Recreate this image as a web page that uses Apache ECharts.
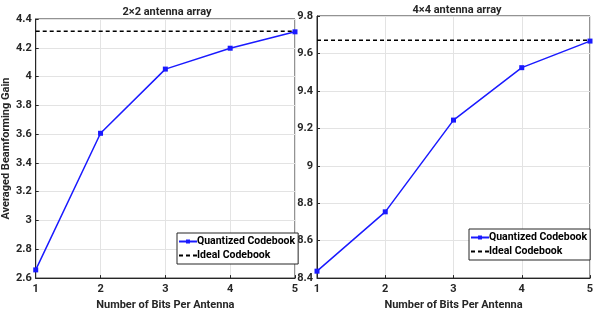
<!DOCTYPE html>
<html><head><meta charset="utf-8">
<script src="https://cdn.jsdelivr.net/npm/echarts@6/dist/echarts.min.js"></script>
<style>html,body{margin:0;padding:0;background:#fff}#c{width:598px;height:316px}</style>
</head><body><div id="c"></div>
<script>
const bits = [1, 2, 3, 4, 5];
const quant2x2 = [2.657, 3.606, 4.052, 4.197, 4.311];
const ideal2x2 = 4.315;
const quant4x4 = [8.437, 8.754, 9.244, 9.524, 9.666];
const ideal4x4 = 9.671;
const titles = ['2\u00d72 antenna array', '4\u00d74 antenna array'];
const xLabel = 'Number of Bits Per Antenna';
const yLabel = 'Averaged Beamforming Gain';
const seriesNames = ['Quantized Codebook', 'Ideal Codebook'];

const FONT = 'Roboto,"Liberation Sans",Arial,sans-serif';
const txt = {fontFamily: FONT, fontWeight: 'bold', color: '#262626'};
const chart = echarts.init(document.getElementById('c'), null, {renderer: 'canvas'});

function xAx(i) {
  return {gridIndex: i, type: 'value', min: 1, max: 5, interval: 1,
    name: xLabel, nameLocation: 'middle', nameGap: 20,
    nameTextStyle: Object.assign({fontSize: 11}, txt),
    axisLabel: Object.assign({fontSize: 11, margin: 6}, txt),
    axisLine: {lineStyle: {color: '#262626'}},
    axisTick: {inside: true, length: 3, lineStyle: {color: '#262626'}},
    splitLine: {show: true, lineStyle: {color: '#e3e3e3', width: 1}}};
}
function yAx(i, min, max, name) {
  return {gridIndex: i, type: 'value', min: min, max: max, interval: 0.2,
    name: name, nameLocation: 'middle', nameGap: 15,
    nameTextStyle: Object.assign({fontSize: 11}, txt),
    axisLabel: Object.assign({fontSize: 11, margin: 4,
      formatter: v => String(Math.round(v * 10) / 10)}, txt),
    axisLine: {show: true, lineStyle: {color: '#262626'}},
    axisTick: {show: true, inside: true, length: 3, lineStyle: {color: '#262626'}},
    splitLine: {show: true, lineStyle: {color: '#e3e3e3', width: 1}}};
}
function qSeries(i, vals) {
  return {name: seriesNames[0], type: 'line', xAxisIndex: i, yAxisIndex: i,
    data: bits.map((b, k) => [b, vals[k]]),
    symbol: 'rect', symbolSize: 5, color: '#1a1aff',
    lineStyle: {width: 1.5, color: '#1a1aff'},
    itemStyle: {color: '#1a1aff'}};
}
function iSeries(i, v) {
  return {name: seriesNames[1], type: 'line', xAxisIndex: i, yAxisIndex: i,
    data: [[bits[0], v], [bits[bits.length - 1], v]],
    symbol: 'none', color: '#000',
    lineStyle: {width: 1.5, type: [4, 3], color: '#000'}};
}
function legend(i, left, top) {
  return {show: true, orient: 'vertical', left: left, top: top,
    data: [
      {name: seriesNames[0], itemStyle: {color: '#1a1aff'}},
      {name: seriesNames[1], itemStyle: {color: 'rgba(0,0,0,0)', borderWidth: 0}}
    ],
    padding: [2, 3, 2, 1], itemGap: 1, itemWidth: 18, itemHeight: 5,
    borderColor: '#262626', borderWidth: 1, backgroundColor: '#fff',
    textStyle: Object.assign({fontSize: 10.5, lineHeight: 13, padding: [0, 0, 0, -5]}, txt, {color: '#000'}),
    selectedMode: false};
}
chart.setOption({
  animation: false,
  backgroundColor: '#fff',
  title: [
    {text: titles[0], left: 162, top: 2, textAlign: 'center', textStyle: Object.assign({fontSize: 11}, txt)},
    {text: titles[1], left: 452, top: 0, textAlign: 'center', textStyle: Object.assign({fontSize: 11}, txt)}
  ],
  grid: [
    {left: 29, top: 19, width: 266, height: 260, show: true, borderColor: '#262626', borderWidth: 1, backgroundColor: '#fff'},
    {left: 317, top: 16, width: 273, height: 265, show: true, borderColor: '#262626', borderWidth: 1, backgroundColor: '#fff'}
  ],
  xAxis: [xAx(0), xAx(1)],
  yAxis: [yAx(0, 2.6, 4.4, yLabel), yAx(1, 8.4, 9.8, '')],
  legend: [legend(0, 177, 233), legend(1, 469, 229)],
  series: [qSeries(0, quant2x2), iSeries(0, ideal2x2), qSeries(1, quant4x4), iSeries(1, ideal4x4)]
});
</script></body></html>
